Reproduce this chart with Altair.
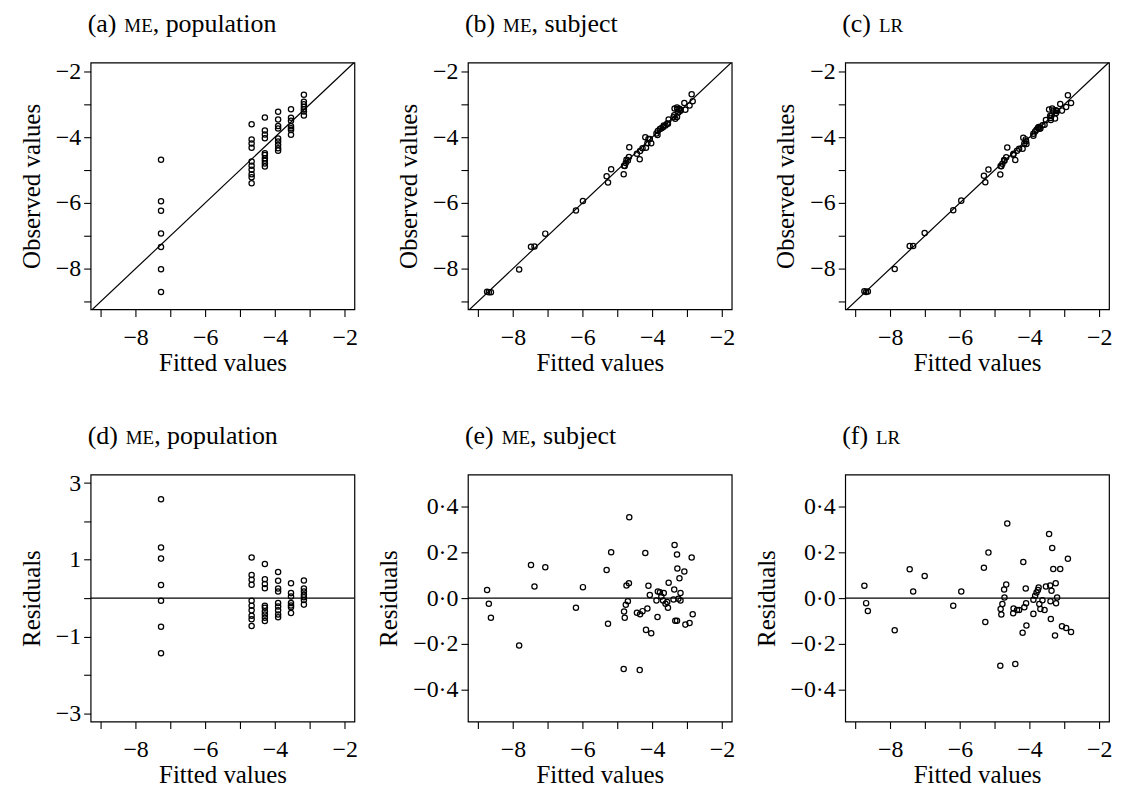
import altair as alt
import pandas as pd

FONT = "Liberation Serif"

# ---------------- data ----------------
# ME model, population-level fitted values (6 distinct levels) and residuals (panel d)
pop_fitted = [-7.27, -7.27, -7.27, -7.27, -7.27, -7.27, -7.27,
              -4.67, -4.67, -4.67, -4.67, -4.67, -4.67, -4.67, -4.67, -4.67, -4.67,
              -4.29, -4.29, -4.29, -4.29, -4.29, -4.29, -4.29, -4.29, -4.29, -4.29,
              -3.91, -3.91, -3.91, -3.91, -3.91, -3.91, -3.91, -3.91, -3.91,
              -3.54, -3.54, -3.54, -3.54, -3.54, -3.54, -3.54,
              -3.17, -3.17, -3.17, -3.17, -3.17, -3.17, -3.17]
pop_resid = [2.58, 1.32, 1.03, 0.34, -0.07, -0.75, -1.44,
             1.06, 0.60, 0.48, 0.35, -0.07, -0.20, -0.32, -0.46, -0.55, -0.73,
             0.89, 0.49, 0.37, 0.26, -0.20, -0.25, -0.35, -0.43, -0.51, -0.60,
             0.68, 0.45, 0.25, 0.17, -0.13, -0.22, -0.32, -0.43, -0.50,
             0.39, 0.13, 0.04, -0.13, -0.19, -0.24, -0.39,
             0.46, 0.25, 0.17, 0.09, 0.02, -0.05, -0.17]

# ME model, subject-level fitted values and residuals (panel e)
subj_fitted = [-8.74, -8.69, -8.63, -7.82, -7.48, -7.38, -7.07, -6.19, -5.99, -5.31,
               -5.27, -5.18, -4.82, -4.81, -4.79, -4.76, -4.74, -4.70, -4.67, -4.66,
               -4.44, -4.36, -4.35, -4.28, -4.20, -4.18, -4.14, -4.11, -4.07, -4.03,
               -3.85, -3.88, -3.84, -3.78, -3.74, -3.69, -3.67, -3.62, -3.57, -3.55,
               -3.53, -3.36, -3.37, -3.39, -3.34, -3.29, -3.29, -3.28, -3.25, -3.22,
               -3.19, -3.19, -3.08, -3.05, -2.93, -2.87, -2.84]
subj_resid = [0.035, -0.025, -0.086, -0.207, 0.145, 0.051, 0.135, -0.042, 0.048, 0.123,
              -0.112, 0.201, -0.310, -0.059, -0.086, -0.029, 0.055, -0.014, 0.065, 0.354,
              -0.064, -0.315, -0.071, -0.057, 0.197, -0.139, -0.045, 0.054, 0.014, -0.154,
              -0.083, -0.010, 0.029, 0.026, 0.007, -0.010, 0.022, -0.025, -0.017, -0.042,
              0.067, 0.232, 0.038, -0.006, -0.099, 0.191, -0.099, 0.130, -0.003, 0.087,
              0.022, -0.010, 0.116, -0.116, -0.109, 0.178, -0.071]

# LR model fitted values and residuals (panel f)
lr_fitted = [-8.74, -8.69, -8.64, -7.87, -7.44, -7.34, -7.01, -6.19, -5.96, -5.31,
             -5.27, -5.18, -4.84, -4.83, -4.81, -4.78, -4.73, -4.72, -4.67, -4.64,
             -4.47, -4.46, -4.41, -4.36, -4.30, -4.20, -4.18, -4.15, -4.11, -4.10,
             -4.09, -3.89, -3.89, -3.84, -3.80, -3.76, -3.74, -3.72, -3.69, -3.63,
             -3.57, -3.53, -3.44, -3.41, -3.40, -3.39, -3.37, -3.35, -3.32, -3.27,
             -3.25, -3.24, -3.21, -3.12, -3.07, -2.95, -2.90, -2.81]
lr_resid = [0.054, -0.022, -0.056, -0.141, 0.126, 0.029, 0.097, -0.033, 0.029, 0.133,
            -0.105, 0.199, -0.296, -0.048, -0.072, -0.026, 0.038, 0.003, 0.059, 0.326,
            -0.066, -0.045, -0.288, -0.052, -0.052, -0.152, 0.158, -0.040, 0.042, -0.023,
            -0.120, -0.007, -0.069, 0.010, 0.025, 0.035, 0.046, -0.026, -0.048, -0.009,
            -0.052, 0.051, 0.280, 0.055, -0.014, -0.091, 0.032, 0.219, 0.127, -0.164,
            0.065, -0.023, 0.003, 0.127, -0.123, -0.131, 0.172, -0.148]

panel_titles = [("(a)", "ME", ", population"), ("(b)", "ME", ", subject"), ("(c)", "LR", ""),
                ("(d)", "ME", ", population"), ("(e)", "ME", ", subject"), ("(f)", "LR", "")]

x_domain = [-9.29, -1.72]
x_ticks = [-9, -8, -7, -6, -5, -4, -3, -2]
obs_domain = [-9.24, -1.73]
obs_ticks = [-9, -8, -7, -6, -5, -4, -3, -2]
pop_res_domain = [-3.22, 3.22]
pop_res_ticks = [-3, -2, -1, 0, 1, 2, 3]
res_domain = [-0.54, 0.54]
res_ticks = [-0.4, -0.2, 0.0, 0.2, 0.4]
diag_vals = [-9.29, -1.72]   # ends of the y = x line
zero_vals = [0.0]

# ---------------- helpers ----------------
W, H = 265, 248
TITLE_FS, SC_FS = 26, 19
TITLE_Y = -31
TIMES = {"(": .333, ")": .333, "a": .444, "b": .5, "c": .444, "d": .5, "e": .444, "f": .333,
         "M": .889, "E": .611, "L": .611, "R": .667}


def twidth(s, fs):
    return sum(TIMES.get(ch, 0.5) for ch in s) * fs


even_minus = "datum.value % 2 == 0 ? '\u2212' + abs(datum.value) : ''"
odd_signed = "datum.value % 2 != 0 ? (datum.value < 0 ? '\u2212' : '') + abs(datum.value) : ''"
dot_dec = "(datum.value < -0.001 ? '\u2212' : '') + replace(format(abs(datum.value), '.1f'), '.', '\u00b7')"


def title_layers(parts):
    p, sc, rest = parts
    x0 = -3
    x1 = x0 + twidth(p, TITLE_FS) + 8
    x2 = x1 + twidth(sc, SC_FS)
    items = [(p, x0, TITLE_FS), (sc, x1, SC_FS)]
    if rest:
        items.append((rest, x2, TITLE_FS))
    out = []
    for txt, xx, fs in items:
        out.append(
            alt.Chart(pd.DataFrame({"t": [txt]}))
            .mark_text(align="left", baseline="alphabetic", font=FONT, fontSize=fs, color="black")
            .encode(text="t:N", x=alt.value(xx), y=alt.value(TITLE_Y))
        )
    return out


def panel(fitted, yvals, ydom, yticks, ylabels, ytitle, ref, parts):
    df = pd.DataFrame({"x": fitted, "y": yvals})
    xenc = alt.X("x:Q", scale=alt.Scale(domain=x_domain, nice=False, zero=False),
                 axis=alt.Axis(values=x_ticks, labelExpr=even_minus, title="Fitted values"))
    yenc = alt.Y("y:Q", scale=alt.Scale(domain=ydom, nice=False, zero=False),
                 axis=alt.Axis(values=yticks, labelExpr=ylabels, title=ytitle))
    pts = alt.Chart(df).mark_point(shape="circle", filled=False, color="black",
                                   size=28, strokeWidth=1.25, opacity=1).encode(x=xenc, y=yenc)
    if ref == "diag":
        rl = alt.Chart(pd.DataFrame({"x": diag_vals, "y": diag_vals})).mark_line(
            color="black", strokeWidth=1.2, clip=True).encode(x=xenc, y=yenc)
    else:
        rl = alt.Chart(pd.DataFrame({"y": zero_vals})).mark_rule(
            color="black", strokeWidth=1.2).encode(y=yenc)
    return alt.layer(rl, pts, *title_layers(parts)).properties(width=W, height=H)


pop_obs = [f + r for f, r in zip(pop_fitted, pop_resid)]
subj_obs = [f + r for f, r in zip(subj_fitted, subj_resid)]
lr_obs = [f + r for f, r in zip(lr_fitted, lr_resid)]

pa = panel(pop_fitted, pop_obs, obs_domain, obs_ticks, even_minus, "Observed values", "diag", panel_titles[0])
pb = panel(subj_fitted, subj_obs, obs_domain, obs_ticks, even_minus, "Observed values", "diag", panel_titles[1])
pc = panel(lr_fitted, lr_obs, obs_domain, obs_ticks, even_minus, "Observed values", "diag", panel_titles[2])
pd_ = panel(pop_fitted, pop_resid, pop_res_domain, pop_res_ticks, odd_signed, "Residuals", "zero", panel_titles[3])
pe = panel(subj_fitted, subj_resid, res_domain, res_ticks, dot_dec, "Residuals", "zero", panel_titles[4])
pf = panel(lr_fitted, lr_resid, res_domain, res_ticks, dot_dec, "Residuals", "zero", panel_titles[5])

chart = (
    alt.concat(pa, pb, pc, pd_, pe, pf, columns=3, bounds="flush",
               spacing={"row": 166, "column": 114})
    .properties(padding={"left": 10, "top": 0, "right": 2, "bottom": 2}, background="white")
    .configure_view(stroke="black", strokeWidth=1.2)
    .configure_axis(labelFont=FONT, titleFont=FONT, labelFontSize=24, titleFontSize=25,
                    titleFontWeight="normal", labelColor="black", titleColor="black",
                    tickColor="black", tickWidth=1.1, tickSize=7, domain=False, grid=False,
                    labelFlush=False, labelOverlap=False)
    .configure_axisX(labelPadding=9, titlePadding=1)
    .configure_axisY(labelPadding=3, titlePadding=11)
)

chart.save("out.html", embed_options={"renderer": "svg", "actions": False})
